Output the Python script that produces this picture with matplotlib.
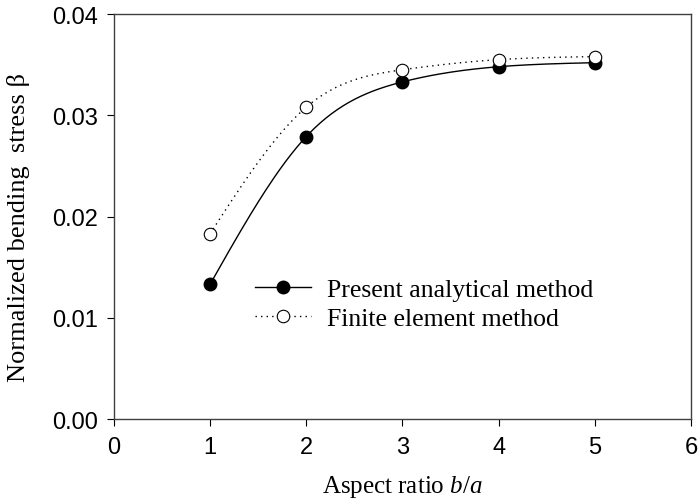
import numpy as np
import matplotlib
matplotlib.use("Agg")
import matplotlib.pyplot as plt

aspect = [1, 2, 3, 4, 5]
analytical = [0.0133, 0.0279, 0.0333, 0.0348, 0.0352]
fem = [0.0183, 0.0308, 0.0345, 0.0355, 0.0358]


def natural_spline(x, y, n=200):
    x = np.asarray(x, float); y = np.asarray(y, float)
    k = len(x); h = np.diff(x)
    A = np.zeros((k, k)); r = np.zeros(k)
    A[0, 0] = A[-1, -1] = 1
    for i in range(1, k - 1):
        A[i, i - 1] = h[i - 1]; A[i, i] = 2 * (h[i - 1] + h[i]); A[i, i + 1] = h[i]
        r[i] = 6 * ((y[i + 1] - y[i]) / h[i] - (y[i] - y[i - 1]) / h[i - 1])
    M = np.linalg.solve(A, r)
    xs = np.linspace(x[0], x[-1], n)
    j = np.clip(np.searchsorted(x, xs) - 1, 0, k - 2)
    t0 = x[j + 1] - xs; t1 = xs - x[j]; hj = h[j]
    ys = (M[j] * t0**3 + M[j + 1] * t1**3) / (6 * hj) \
        + (y[j] / hj - M[j] * hj / 6) * t0 + (y[j + 1] / hj - M[j + 1] * hj / 6) * t1
    return xs, ys


plt.rcParams.update({"mathtext.fontset": "custom",
                     "mathtext.rm": "Liberation Serif",
                     "mathtext.it": "Liberation Serif:italic"})
serif = ["Liberation Serif", "DejaVu Serif"]
sans = ["Liberation Sans", "DejaVu Sans"]
DOT = (0, (1, 3))

fig = plt.figure(figsize=(6.98, 5.02), dpi=100)
ax = fig.add_axes([0.163, 0.163, 0.827, 0.807])

xs, ys = natural_spline(aspect, analytical)
ax.plot(xs, ys, c="k", lw=1.0, zorder=2)
xs, ys = natural_spline(aspect, fem)
ax.plot(xs, ys, c="k", lw=1.0, ls=DOT, zorder=2)
ax.plot(aspect, analytical, "o", ms=9, mfc="k", mec="k", zorder=3)
ax.plot(aspect, fem, "o", ms=9, mfc="white", mec="k", mew=0.8, zorder=4)

# legend handles: line + marker
h1, = ax.plot([], [], c="k", lw=1.0, marker="o", ms=9, mfc="k", mec="k")
h2, = ax.plot([], [], c="k", lw=1.0, ls=DOT, marker="o", ms=9, mfc="white", mec="k", mew=0.8)
ax.legend([h1, h2], ["Present analytical method", "Finite element method"],
          loc="upper left", bbox_to_anchor=(0.204, 0.405), frameon=False,
          prop={"family": serif, "size": 18.5}, handlelength=2.2, handletextpad=0.6,
          labelspacing=0.22)

ax.set_xlim(0, 6); ax.set_ylim(0, 0.04)
ax.set_xticks(range(7)); ax.set_yticks([0, 0.01, 0.02, 0.03, 0.04])
ax.set_yticklabels([f"{v:.2f}" for v in [0, 0.01, 0.02, 0.03, 0.04]])
ax.tick_params(direction="out", length=5, width=0.8, top=False, right=False, labelsize=17)
ax.tick_params(axis="x", pad=7)
ax.tick_params(axis="y", pad=6)
for lab in ax.get_xticklabels() + ax.get_yticklabels():
    lab.set_family(sans)
for s in ax.spines.values():
    s.set_linewidth(1.0); s.set_color("0.25")

ax.set_xlabel("Aspect ratio $\\mathit{b/a}$", family=serif, fontsize=18, labelpad=11)
ax.set_ylabel("Normalized bending  stress β", family=serif, fontsize=19)
ax.yaxis.set_label_coords(-0.145, 0.476)

fig.savefig("out.png", dpi=100)
